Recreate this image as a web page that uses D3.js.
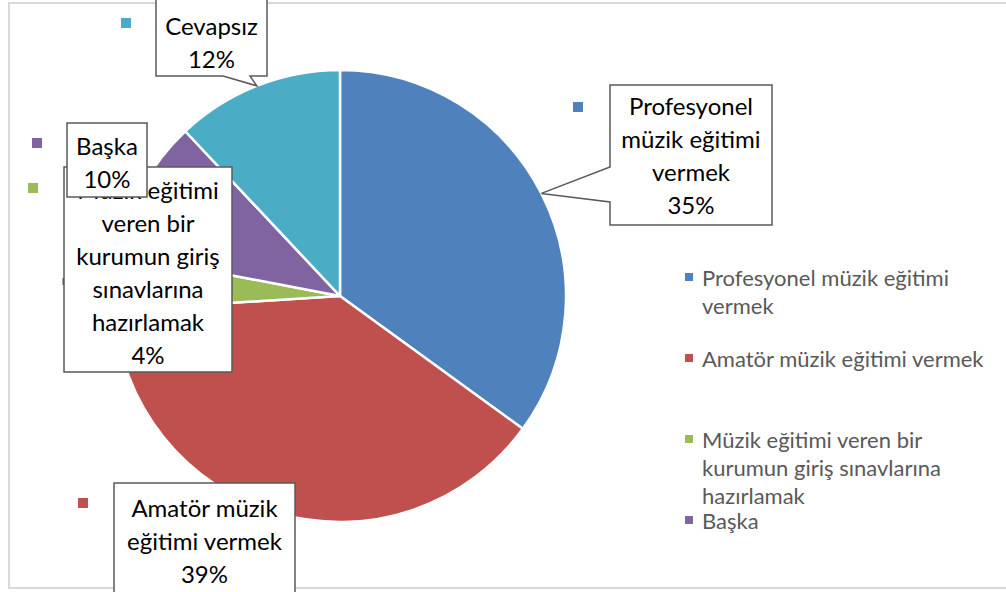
<!DOCTYPE html>
<html>
<head>
<meta charset="utf-8">
<script src="https://cdn.jsdelivr.net/npm/d3@7"></script>
<style>
  body { margin: 0; background: #fff; }
  svg { display: block; font-family: Lato, "Open Sans", sans-serif; }
</style>
</head>
<body>
<svg width="1006" height="592"></svg>
<script>
// data
var categories = ["Profesyonel müzik eğitimi vermek", "Amatör müzik eğitimi vermek",
                  "Müzik eğitimi veren bir kurumun giriş sınavlarına hazırlamak", "Başka", "Cevapsız"];
var values = [35, 39, 4, 10, 12];
var percentLabels = ["35%", "39%", "4%", "10%", "12%"];

var colors = ["#4F81BD", "#C0504D", "#9BBB59", "#8064A2", "#4BACC6"];

var svg = d3.select("svg"),
    cx = 340, cy = 296, radius = 226;

// chart frame
svg.append("path")
   .attr("d", "M1006,3 H9 V588 H1006")
   .attr("fill", "none")
   .attr("stroke", "#d9d9d9")
   .attr("stroke-width", 2);

var data = categories.map(function(c, i) { return { name: c, value: values[i], pct: percentLabels[i], i: i }; });

var pie = d3.pie().sort(null).value(function(d) { return d.value; });
var arcs = pie(data);

var path = d3.arc().innerRadius(0).outerRadius(radius);
var edge = d3.arc().innerRadius(radius).outerRadius(radius);

var g = svg.append("g").attr("transform", "translate(" + cx + "," + cy + ")");

g.selectAll(".slice")
 .data(arcs)
 .enter().append("path")
 .attr("class", "slice")
 .attr("d", path)
 .attr("fill", function(d) { return colors[d.index]; })
 .attr("stroke", "#fff")
 .attr("stroke-width", 2.5)
 .attr("stroke-linejoin", "round");

// callout boxes (layout only), drawn in this order
var boxes = [
  { i: 4, x: 156, y: -4, w: 111, h: 80, wrap: 100, side: "bottom", a: 223, b: 250, top: 25 },
  { i: 0, x: 610, y: 85, w: 162, h: 140, wrap: 150, side: "left", a: 167, b: 202, top: 105 },
  { i: 1, x: 114, y: 483, w: 181, h: 120, wrap: 175, top: 507 },
  { i: 2, x: 64, y: 167, w: 168, h: 205, wrap: 160, top: 189 },
  { i: 3, x: 67, y: 123, w: 80, h: 74, wrap: 75, top: 145 }
];
var markers = { 0: [573, 102], 1: [78, 498], 2: [28, 183], 3: [32, 138], 4: [121, 18] };

var lineH = 33;

function wrapWords(text, maxW, size, sel) {
  var words = text.split(" "), lines = [], cur = "";
  var probe = sel.append("text").style("font-size", size + "px");
  words.forEach(function(w) {
    var t = cur ? cur + " " + w : w;
    probe.text(t);
    if (cur && probe.node().getComputedTextLength() > maxW) { lines.push(cur); cur = w; }
    else cur = t;
  });
  lines.push(cur);
  probe.remove();
  return lines;
}

// marker squares next to labels
Object.keys(markers).forEach(function(k) {
  svg.append("rect")
     .attr("x", markers[k][0]).attr("y", markers[k][1])
     .attr("width", 10).attr("height", 10)
     .attr("fill", colors[k]);
});

// small pointer stub of the green label
svg.append("line")
   .attr("x1", 64).attr("x2", 64).attr("y1", 278).attr("y2", 285)
   .attr("stroke", "#595959").attr("stroke-width", 3);

boxes.forEach(function(b) {
  var d = arcs[b.i];
  var tip = edge.centroid(d).map(function(v, k) { return v + (k ? cy : cx); });
  var x0 = b.x, y0 = b.y, x1 = b.x + b.w, y1 = b.y + b.h, p;
  if (b.side === "left") {
    p = "M" + x0 + "," + y0 + "H" + x1 + "V" + y1 + "H" + x0 + "V" + b.b +
        "L" + tip[0] + "," + tip[1] + "L" + x0 + "," + b.a + "Z";
  } else if (b.side === "bottom") {
    p = "M" + x0 + "," + y0 + "H" + x1 + "V" + y1 + "H" + b.b +
        "L" + tip[0] + "," + tip[1] + "L" + b.a + "," + y1 + "H" + x0 + "Z";
  } else {
    p = "M" + x0 + "," + y0 + "H" + x1 + "V" + y1 + "H" + x0 + "Z";
  }
  var bg = svg.append("g");
  bg.append("path")
    .attr("d", p)
    .attr("fill", "#fff")
    .attr("stroke", "#595959")
    .attr("stroke-width", 1.5);
  var lines = wrapWords(data[b.i].name, b.wrap, 24, bg).concat([data[b.i].pct]);
  var t = bg.append("text")
            .attr("text-anchor", "middle")
            .attr("dominant-baseline", "central")
            .style("font-size", "24px")
            .attr("fill", "#000");
  lines.forEach(function(l, k) {
    t.append("tspan").attr("x", x0 + b.w / 2).attr("y", b.top + k * lineH).text(l);
  });
});

// legend (Cevapsız is clipped off in the original)
var legend = svg.append("g").attr("class", "legend");
var legY = 277, legStep = 81, legLine = 28;
data.slice(0, 4).forEach(function(d, i) {
  var y = legY + i * legStep;
  legend.append("rect")
        .attr("x", 685).attr("y", y - 4)
        .attr("width", 8).attr("height", 8)
        .attr("fill", colors[i]);
  var lines = wrapWords(d.name, 292, 22, legend);
  var t = legend.append("text")
                .attr("dominant-baseline", "central")
                .style("font-size", "22px")
                .attr("fill", "#595959");
  lines.forEach(function(l, k) {
    t.append("tspan").attr("x", 702).attr("y", y + k * legLine).text(l);
  });
});
</script>
</body>
</html>
